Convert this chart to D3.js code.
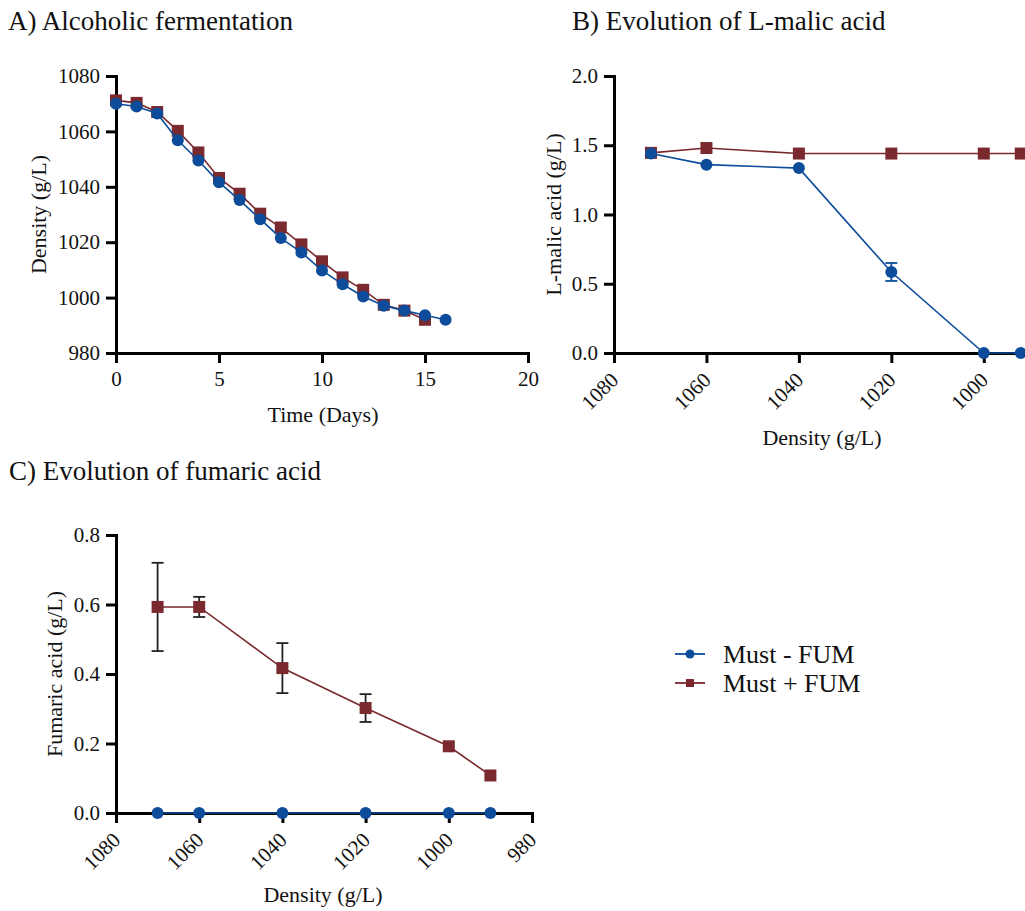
<!DOCTYPE html>
<html>
<head>
<meta charset="utf-8">
<script src="https://cdn.jsdelivr.net/npm/d3@7"></script>
<style>
  html, body { margin: 0; padding: 0; background: #fff; }
  svg { display: block; }
  svg text { font-family: "Liberation Serif", "Times New Roman", Times, "DejaVu Serif", serif !important; fill: #111; }
</style>
</head>
<body>
<svg id="fig" width="1025" height="911"></svg>
<script>
// Panel A: density during alcoholic fermentation
const daysMinus = [0,1,2,3,4,5,6,7,8,9,10,11,12,13,14,15,16];
const densityMinus = [1070, 1069, 1066.5, 1056.8, 1049.5, 1041.6, 1035.2, 1028.3, 1021.5, 1016.3, 1009.8, 1004.8, 1000.4, 997.1, 995.3, 993.6, 992];
const daysPlus = [0,1,2,3,4,5,6,7,8,9,10,11,12,13,14,15];
const densityPlus = [1071.2, 1070.3, 1067, 1060.2, 1052.4, 1043.2, 1037.5, 1030.3, 1025.3, 1019.2, 1013.1, 1007.3, 1002.8, 997.4, 995.3, 992];

// Panel B: L-malic acid vs density
const malicDensity = [1072, 1060, 1040, 1020, 1000, 992];
const malicMinus = [1.44, 1.36, 1.335, 0.585, 0, 0];
const malicMinusSD = [0, 0, 0, 0.065, 0, 0];
const malicPlus = [1.445, 1.48, 1.44, 1.44, 1.44, 1.44];
const malicPlusSD = [0, 0, 0, 0, 0, 0];

// Panel C: fumaric acid vs density
const fumDensity = [1070, 1060, 1040, 1020, 1000, 990];
const fumMinus = [0, 0, 0, 0, 0, 0];
const fumMinusSD = [0, 0, 0, 0, 0, 0];
const fumPlus = [0.593, 0.593, 0.417, 0.302, 0.192, 0.108];
const fumPlusSD = [0.127, 0.029, 0.072, 0.04, 0, 0];

// Axis ticks
const ticksTime = [0, 5, 10, 15, 20];
const ticksDensityY = [980, 1000, 1020, 1040, 1060, 1080];
const ticksMalic = [0, 0.5, 1.0, 1.5, 2.0];
const ticksFum = [0, 0.2, 0.4, 0.6, 0.8];
const ticksDensityB = [1080, 1060, 1040, 1020, 1000];
const ticksDensityC = [1080, 1060, 1040, 1020, 1000, 980];

const seriesNames = ["Must - FUM", "Must + FUM"];

const BLUE = "#0c4c9a";
const RED = "#7a2a2f";
const FONT = "'Liberation Serif', 'Times New Roman', Times, 'DejaVu Serif', serif";

const svg = d3.select("#fig");

function styleAxis(g) {
  g.attr("font-family", FONT);
  g.select(".domain").attr("stroke", "#000").attr("stroke-width", 3).attr("stroke-linecap", "square");
  g.selectAll(".tick line").attr("stroke", "#000").attr("stroke-width", 3);
  g.selectAll(".tick text").attr("font-size", 21).attr("fill", "#111").attr("font-family", FONT);
}

function panel(cfg) {
  const g = svg.append("g").attr("font-family", FONT);
  const x = d3.scaleLinear().domain(cfg.xDomain).range(cfg.xRange);
  const y = d3.scaleLinear().domain(cfg.yDomain).range(cfg.yRange);
  const y0 = cfg.yRange[0];
  const x0 = cfg.xRange[0];

  // axes
  const xa = g.append("g").attr("transform", `translate(0,${y0})`)
    .call(d3.axisBottom(x).tickValues(cfg.xTicks).tickSize(10).tickSizeOuter(0).tickPadding(8)
      .tickFormat(cfg.xFormat || d3.format("d")));
  styleAxis(xa);
  if (cfg.rotateX) {
    xa.selectAll(".tick text")
      .attr("x", 0).attr("y", 0).attr("dy", "0.35em")
      .attr("text-anchor", "end")
      .attr("transform", "translate(0,23) rotate(-45)");
  }
  const ya = g.append("g").attr("transform", `translate(${x0},0)`)
    .call(d3.axisLeft(y).tickValues(cfg.yTicks).tickSize(10).tickSizeOuter(0).tickPadding(6)
      .tickFormat(cfg.yFormat));
  styleAxis(ya);

  // axis titles
  g.append("text").attr("x", cfg.xTitlePos[0]).attr("y", cfg.xTitlePos[1])
    .attr("text-anchor", "middle").attr("font-size", 22).text(cfg.xTitle);
  g.append("text")
    .attr("transform", `translate(${cfg.yTitlePos[0]},${cfg.yTitlePos[1]}) rotate(-90)`)
    .attr("text-anchor", "middle").attr("dy", "0.35em").attr("font-size", 22).text(cfg.yTitle);

  // panel title
  g.append("text").attr("x", cfg.titlePos[0]).attr("y", cfg.titlePos[1])
    .attr("font-size", 27).text(cfg.title);

  const plot = g.append("g");
  // draw the "+ FUM" series first so "- FUM" sits on top
  cfg.series.slice().reverse().forEach(s => {
    const pts = s.xs.map((xv, i) => ({ x: xv, y: s.ys[i], sd: s.sd ? s.sd[i] : 0 }));
    const sg = plot.append("g");
    // error bars
    pts.filter(p => p.sd > 0).forEach(p => {
      const cx = x(p.x), top = y(p.y + p.sd), bot = y(p.y - p.sd);
      const c = s.errColor;
      sg.append("line").attr("x1", cx).attr("x2", cx).attr("y1", top).attr("y2", bot)
        .attr("stroke", c).attr("stroke-width", 1.8);
      [top, bot].forEach(yy => sg.append("line").attr("x1", cx - 6).attr("x2", cx + 6)
        .attr("y1", yy).attr("y2", yy).attr("stroke", c).attr("stroke-width", 1.8));
    });
    sg.append("path").datum(pts)
      .attr("fill", "none").attr("stroke", s.color).attr("stroke-width", 1.6)
      .attr("d", d3.line().x(d => x(d.x)).y(d => y(d.y)));
    if (s.shape === "circle") {
      sg.selectAll("circle").data(pts).join("circle")
        .attr("cx", d => x(d.x)).attr("cy", d => y(d.y)).attr("r", 6).attr("fill", s.color);
    } else {
      sg.selectAll("rect").data(pts).join("rect")
        .attr("x", d => x(d.x) - 6).attr("y", d => y(d.y) - 6)
        .attr("width", 12).attr("height", 12).attr("fill", s.color);
    }
  });
}

// A) Alcoholic fermentation
panel({
  title: "A) Alcoholic fermentation", titlePos: [8, 30],
  xDomain: [0, 20], xRange: [116, 528], xTicks: ticksTime,
  yDomain: [980, 1080], yRange: [353, 76], yTicks: ticksDensityY, yFormat: d3.format("d"),
  xTitle: "Time (Days)", xTitlePos: [323, 422],
  yTitle: "Density (g/L)", yTitlePos: [38, 214.5],
  series: [
    { xs: daysMinus, ys: densityMinus, color: BLUE, shape: "circle" },
    { xs: daysPlus, ys: densityPlus, color: RED, shape: "square" }
  ]
});

// B) Evolution of L-malic acid
panel({
  title: "B) Evolution of L-malic acid", titlePos: [572, 30],
  xDomain: [1080, 990], xRange: [614, 1030], xTicks: ticksDensityB, rotateX: true,
  yDomain: [0, 2], yRange: [353, 76], yTicks: ticksMalic, yFormat: d3.format(".1f"),
  xTitle: "Density (g/L)", xTitlePos: [822, 445],
  yTitle: "L-malic acid (g/L)", yTitlePos: [553, 214.5],
  series: [
    { xs: malicDensity, ys: malicMinus, sd: malicMinusSD, color: BLUE, errColor: BLUE, shape: "circle" },
    { xs: malicDensity, ys: malicPlus, sd: malicPlusSD, color: RED, errColor: "#222", shape: "square" }
  ]
});

// C) Evolution of fumaric acid
panel({
  title: "C) Evolution of fumaric acid", titlePos: [9, 480],
  xDomain: [1080, 980], xRange: [116, 532], xTicks: ticksDensityC, rotateX: true,
  yDomain: [0, 0.8], yRange: [813, 535], yTicks: ticksFum, yFormat: d3.format(".1f"),
  xTitle: "Density (g/L)", xTitlePos: [323, 902],
  yTitle: "Fumaric acid (g/L)", yTitlePos: [54, 674],
  series: [
    { xs: fumDensity, ys: fumMinus, sd: fumMinusSD, color: BLUE, errColor: BLUE, shape: "circle" },
    { xs: fumDensity, ys: fumPlus, sd: fumPlusSD, color: RED, errColor: "#222", shape: "square" }
  ]
});

// Legend
const legend = svg.append("g").attr("font-family", FONT).attr("transform", "translate(675,654)");
[{ name: seriesNames[0], color: BLUE, shape: "circle" },
 { name: seriesNames[1], color: RED, shape: "square" }].forEach((d, i) => {
  const row = legend.append("g").attr("transform", `translate(0,${i * 29})`);
  row.append("line").attr("x1", 0).attr("x2", 30).attr("y1", 0).attr("y2", 0)
    .attr("stroke", d.color).attr("stroke-width", 1.8);
  if (d.shape === "circle") {
    row.append("circle").attr("cx", 15).attr("cy", 0).attr("r", 4.5).attr("fill", d.color);
  } else {
    row.append("rect").attr("x", 11).attr("y", -4).attr("width", 8).attr("height", 8).attr("fill", d.color);
  }
  row.append("text").attr("x", 48).attr("y", 0).attr("dy", "0.35em")
    .attr("font-size", 26).text(d.name);
});
</script>
</body>
</html>
